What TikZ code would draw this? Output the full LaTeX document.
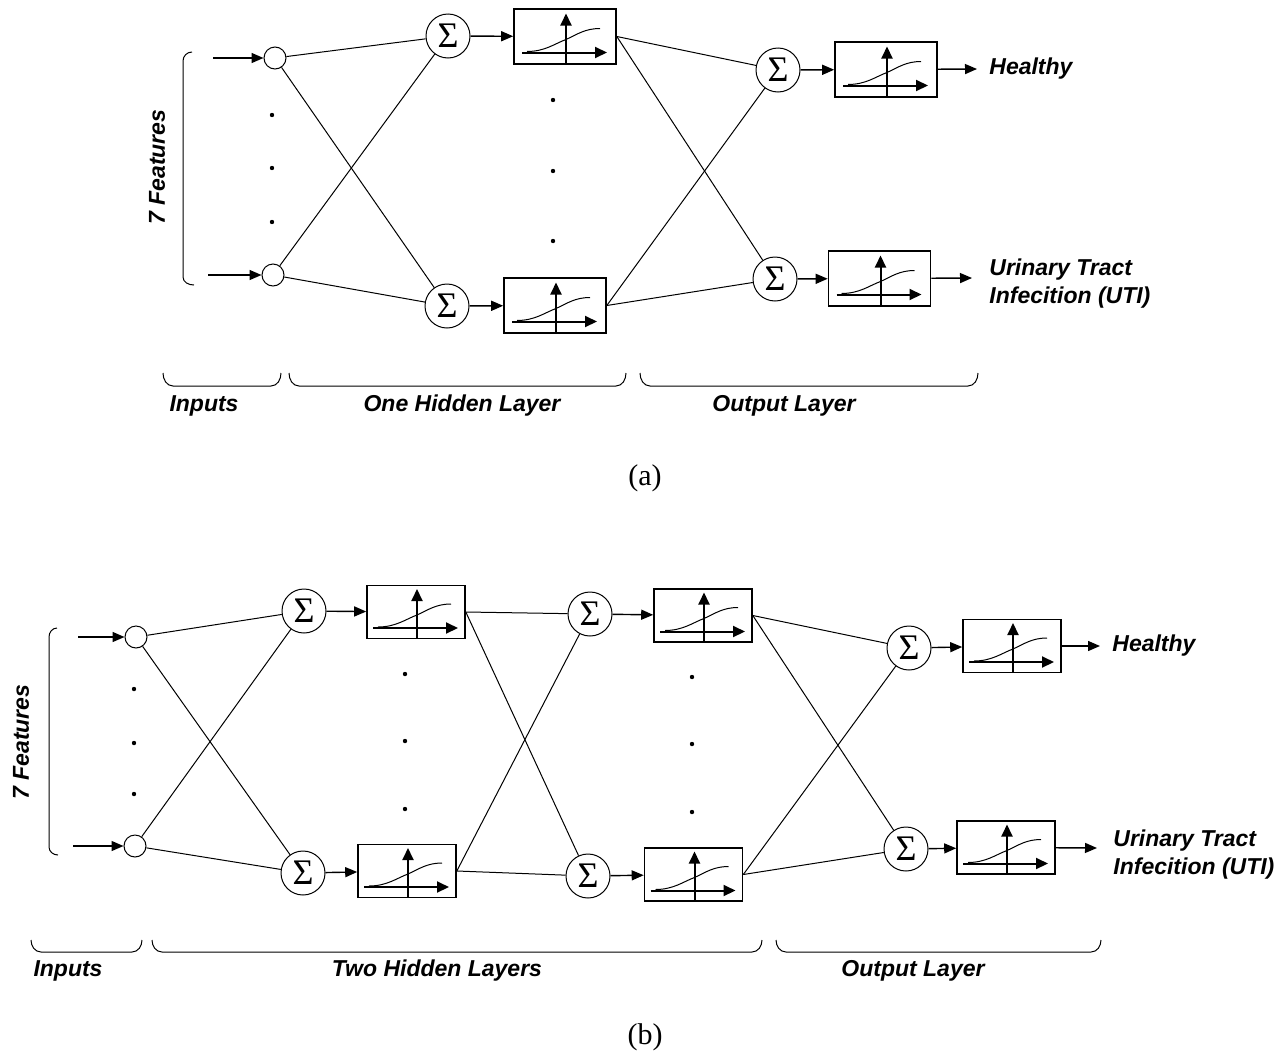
\documentclass[tikz,border=0pt]{standalone}
\usepackage{fontspec}
\setmainfont{Liberation Serif}
\newfontfamily\lblfont{Liberation Sans}
\usetikzlibrary{arrows.meta,positioning}
\begin{document}
\begin{tikzpicture}[x=0.5pt,y=-0.5pt,
    >={Triangle[length=6pt,width=5pt]},
    inp/.style={circle,draw,line width=0.5pt,minimum size=11pt,inner sep=0pt},
    sumnode/.style={circle,draw,line width=0.5pt,minimum size=22pt,inner sep=0pt,font=\fontsize{18}{18}\selectfont},
    actbox/.style={draw,line width=0.8pt,minimum width=51pt,minimum height=27.5pt,inner sep=0pt,
      path picture={
        \coordinate(pc)at(path picture bounding box.center);
        \draw[line width=1pt,-{Triangle[length=6pt,width=5.5pt]}]([shift={(1,27)}]pc)--([shift={(1,-23)}]pc);
        \draw[line width=1pt,-{Triangle[length=6pt,width=5.5pt]}]([shift={(-43,16)}]pc)--([shift={(42,16)}]pc);
        \draw[line width=0.5pt]([shift={(-38,15)}]pc)..controls([shift={(-20,15)}]pc)and([shift={(-10,7)}]pc)..([shift={(1,3)}]pc)..controls([shift={(12,-2)}]pc)and([shift={(20,-8)}]pc)..([shift={(35,-8)}]pc);
      }},
    smallbox/.style={actbox,minimum width=49pt,minimum height=26.5pt},
    link/.style={line width=0.5pt},
    feed/.style={line width=0.7pt,->},
    brk/.style={line width=0.5pt},
    lbl/.style={font=\lblfont\bfseries\itshape\fontsize{11.5}{14}\selectfont,inner sep=0pt},
    captxt/.style={font=\fontsize{15}{18}\selectfont,inner sep=0pt}]
  \useasboundingbox(0,0)rectangle(1280,1055);

  % (a) one hidden layer
  \begin{scope}
    \coordinate(ain1)at(213,58);
    \coordinate(ain2)at(208,275);
    \node[inp](ax1)at(275,58){};
    \node[inp](ax2)at(273,275){};
    \node[sumnode](as1)at(448,36){Σ};
    \node[sumnode](as2)at(447,306){Σ};
    \node[actbox](ab1)at(565,36.5){};
    \node[actbox](ab2)at(555,305.5){};
    \node[sumnode](aos1)at(778,70){Σ};
    \node[sumnode](aos2)at(775,279){Σ};
    \node[actbox](aob1)at(886,69.5){};
    \node[actbox](aob2)at(879.5,278.5){};
    \coordinate(aend1)at(977,69);
    \coordinate(aend2)at(972,278);
    \node[lbl,right=6pt of aend1](ahl){Healthy};
    \node[lbl,align=left,right=8.5pt of aend2,yshift=-3pt](auti){Urinary Tract\\Infecition (UTI)};

    \draw[feed](ain1)--(ax1);
    \draw[feed](ain2)--(ax2);
    \draw[link](ax1)--(as1);
    \draw[link](ax1)--(as2);
    \draw[link](ax2)--(as1);
    \draw[link](ax2)--(as2);
    \draw[feed](as1)--(ab1);
    \draw[feed](as2)--(ab2);
    \draw[link](ab1.east)--(aos1);
    \draw[link](ab1.east)--(aos2);
    \draw[link](ab2.east)--(aos1);
    \draw[link](ab2.east)--(aos2);
    \draw[feed](aos1)--(aob1);
    \draw[feed](aos2)--(aob2);
    \draw[feed](aob1)--(aend1);
    \draw[feed](aob2)--(aend2);

    \fill(272,115)circle[radius=1.1pt](272,168)circle[radius=1.1pt](272,222)circle[radius=1.1pt];
    \fill(553,100)circle[radius=1.1pt](553,171)circle[radius=1.1pt](553,241)circle[radius=1.1pt];

    \draw[brk](192,52)to[out=180,in=90](183,61)--(183,277)to[out=-90,in=180](194,285);
    \node[lbl,rotate=90](afeat)at(157,167){7 Features};

    \draw[brk](163,373)to[out=-90,in=180](173,386)--(271,386)to[out=0,in=-90](281,373);
    \draw[brk](289,373)to[out=-90,in=180](299,386)--(616,386)to[out=0,in=-90](626,373);
    \draw[brk](640,373)to[out=-90,in=180](650,386)--(968,386)to[out=0,in=-90](978,373);
    \node[lbl](ainp)at(204,406){Inputs};
    \node[lbl](ahid)at(462,406){One Hidden Layer};
    \node[lbl](aout)at(784,406){Output Layer};
    \node[captxt](capa)at(645,478){(a)};
  \end{scope}

  % (b) two hidden layers
  \begin{scope}
    \coordinate(bin1)at(78,637);
    \coordinate(bin2)at(73,846);
    \node[inp](bx1)at(136,637){};
    \node[inp](bx2)at(135,846){};
    \node[sumnode](bs1)at(304,611){Σ};
    \node[sumnode](bs2)at(303,873){Σ};
    \node[smallbox](bb1)at(416,612){};
    \node[smallbox](bb2)at(407,871){};
    \node[sumnode](bt1)at(590,614){Σ};
    \node[sumnode](bt2)at(588,876){Σ};
    \node[smallbox](bc1)at(703,615.5){};
    \node[smallbox](bc2)at(693.5,874.5){};
    \node[sumnode](bos1)at(909,648){Σ};
    \node[sumnode](bos2)at(906,849){Σ};
    \node[smallbox](bob1)at(1012,646){};
    \node[smallbox](bob2)at(1006,847.5){};
    \coordinate(bend1)at(1100,646);
    \coordinate(bend2)at(1097,848);
    \node[lbl,right=6pt of bend1](bhl){Healthy};
    \node[lbl,align=left,right=8pt of bend2,yshift=-3.5pt](buti){Urinary Tract\\Infecition (UTI)};

    \draw[feed](bin1)--(bx1);
    \draw[feed](bin2)--(bx2);
    \draw[link](bx1)--(bs1);
    \draw[link](bx1)--(bs2);
    \draw[link](bx2)--(bs1);
    \draw[link](bx2)--(bs2);
    \draw[feed](bs1)--(bb1);
    \draw[feed](bs2)--(bb2);
    \draw[link](bb1.east)--(bt1);
    \draw[link](bb1.east)--(bt2);
    \draw[link](bb2.east)--(bt1);
    \draw[link](bb2.east)--(bt2);
    \draw[feed](bt1)--(bc1);
    \draw[feed](bt2)--(bc2);
    \draw[link](bc1.east)--(bos1);
    \draw[link](bc1.east)--(bos2);
    \draw[link](bc2.east)--(bos1);
    \draw[link](bc2.east)--(bos2);
    \draw[feed](bos1)--(bob1);
    \draw[feed](bos2)--(bob2);
    \draw[feed](bob1)--(bend1);
    \draw[feed](bob2)--(bend2);

    \fill(134,689)circle[radius=1.1pt](134,743)circle[radius=1.1pt](134,794)circle[radius=1.1pt];
    \fill(405,674)circle[radius=1.1pt](405,741)circle[radius=1.1pt](405,809)circle[radius=1.1pt];
    \fill(692,677)circle[radius=1.1pt](692,744)circle[radius=1.1pt](692,812)circle[radius=1.1pt];

    \draw[brk](57,628)to[out=180,in=90](49,637)--(49,847)to[out=-90,in=180](58,855);
    \node[lbl,rotate=90](bfeat)at(21,742){7 Features};

    \draw[brk](31,940)to[out=-90,in=180](41,952)--(132,952)to[out=0,in=-90](142,940);
    \draw[brk](152,940)to[out=-90,in=180](162,952)--(752,952)to[out=0,in=-90](762,940);
    \draw[brk](776,940)to[out=-90,in=180](786,952)--(1091,952)to[out=0,in=-90](1101,940);
    \node[lbl](binp)at(68,971){Inputs};
    \node[lbl](bhid)at(437,971){Two Hidden Layers};
    \node[lbl](bout)at(913,971){Output Layer};
    \node[captxt](capb)at(645,1037){(b)};
  \end{scope}
\end{tikzpicture}
\end{document}
